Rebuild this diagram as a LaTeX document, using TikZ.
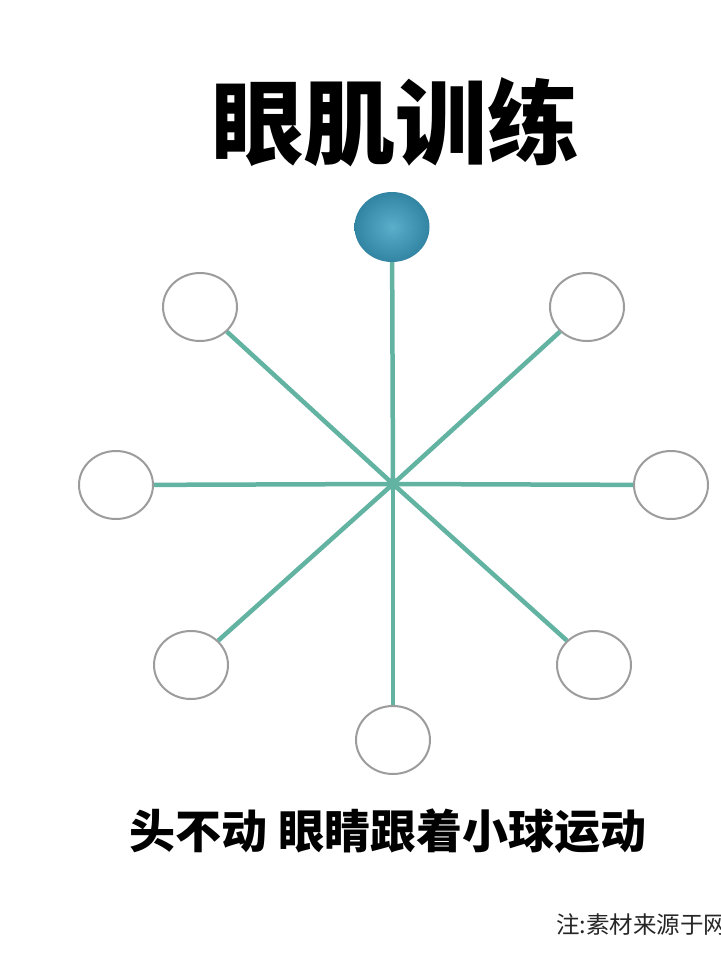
\documentclass[tikz,border=0pt]{standalone}
\usepackage{fontspec}
\newfontfamily\cjk{Noto Sans CJK SC}
\usetikzlibrary{shapes.geometric}
\definecolor{spoke}{HTML}{62B3A2}
\definecolor{ringgray}{HTML}{9C9C9C}
\definecolor{ballout}{HTML}{3284A3}
\definecolor{ballin}{HTML}{5AAFCB}
\tikzset{
  ring/.style={ellipse, draw=ringgray, line width=2pt, fill=white, minimum width=74pt, minimum height=68pt, inner sep=0pt},
  ballnode/.style={ellipse, minimum width=75pt, minimum height=70pt, inner sep=0pt, inner color=ballin, outer color=ballout},
  spokeline/.style={draw=spoke, line width=4.5pt},
  titletext/.style={font=\cjk\bfseries\fontsize{92}{100}\selectfont, text=black, inner sep=0pt},
  subtext/.style={font=\cjk\bfseries\fontsize{46}{50}\selectfont, text=black, inner sep=0pt},
  notetext/.style={font=\cjk\fontsize{23.5}{26}\selectfont, text=black!85, inner sep=0pt, anchor=west}
}
\begin{document}
\begin{tikzpicture}[x=1pt,y=-1pt]
\useasboundingbox (0,0) rectangle (720,960);
\fill[white] (0,0) rectangle (720,960);
\coordinate (c) at (393,484);
\node[ballnode] (ball) at (392,227) {};
\node[ring] (ul) at (200,307) {};
\node[ring] (ur) at (587,307) {};
\node[ring] (l) at (116,485) {};
\node[ring] (r) at (671,485) {};
\node[ring] (ll) at (191,665) {};
\node[ring] (lr) at (594,665) {};
\node[ring] (b) at (393,740) {};
\foreach \n in {ball,ul,ur,l,r,ll,lr,b} {
  \draw[spokeline] (c) -- (\n);
}
\fill[spoke] (c) circle (6pt);
\node[titletext] (title) at (395,122) {眼肌训练};
\node[subtext] (sub) at (388,831) {头不动 眼睛跟着小球运动};
\node[notetext] (note) at (556,925) {注:素材来源于网};
\end{tikzpicture}
\end{document}
